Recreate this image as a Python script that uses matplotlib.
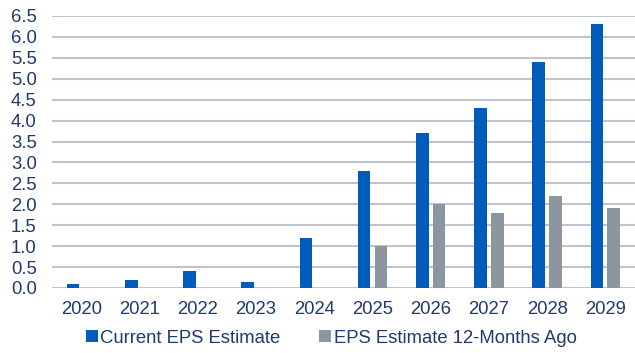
import matplotlib
matplotlib.use("Agg")
import matplotlib.pyplot as plt
import numpy as np

years = ["2020", "2021", "2022", "2023", "2024", "2025", "2026", "2027", "2028", "2029"]
current_eps = [0.1, 0.2, 0.4, 0.15, 1.2, 2.8, 3.7, 4.3, 5.4, 6.3]
eps_12m_ago = [None, None, None, None, None, 1.0, 2.0, 1.8, 2.2, 1.9]
yticks = [0.0, 0.5, 1.0, 1.5, 2.0, 2.5, 3.0, 3.5, 4.0, 4.5, 5.0, 5.5, 6.0, 6.5]

blue = "#005BBB"
gray = "#8C969F"
txt = "#1F3A6E"
grid = "#BFC4CC"

plt.rcParams['font.family'] = ['Liberation Sans', 'DejaVu Sans']
fs = 13.3

fig = plt.figure(figsize=(6.35, 3.53), dpi=100)
ax = fig.add_axes([52/635, 1 - 288/353, 1 - 52/635, (288 - 16)/353])

x = np.arange(len(years))
w = 0.216
off = 0.144
ax.bar(x - off, current_eps, width=w, color=blue, label="Current EPS Estimate", zorder=3)
gx = [xi for xi, v in zip(x, eps_12m_ago) if v is not None]
gv = [v for v in eps_12m_ago if v is not None]
ax.bar(np.array(gx) + off, gv, width=w, color=gray, label="EPS Estimate 12-Months Ago", zorder=3)

ax.set_ylim(0, 6.5)
ax.set_xlim(-0.506, len(years) - 0.49)
ax.set_yticks(yticks)
ax.set_yticklabels([f"{t:.1f}" for t in yticks])
ax.set_xticks(x)
ax.set_xticklabels(years)
ax.tick_params(axis='both', length=0, labelsize=fs, colors=txt)
ax.tick_params(axis='y', pad=11)
ax.tick_params(axis='x', pad=9)
ax.yaxis.grid(True, color=grid, linewidth=1.5, zorder=0)
ax.set_axisbelow(True)
for s in ax.spines.values():
    s.set_visible(False)

leg = ax.legend(loc='center', bbox_to_anchor=(0.479, -0.185), ncol=2, frameon=False,
                fontsize=fs, handlelength=0.65, handleheight=0.65, handletextpad=0.14,
                columnspacing=2.1)
for t in leg.get_texts():
    t.set_color(txt)

fig.savefig("out.png", dpi=100)
